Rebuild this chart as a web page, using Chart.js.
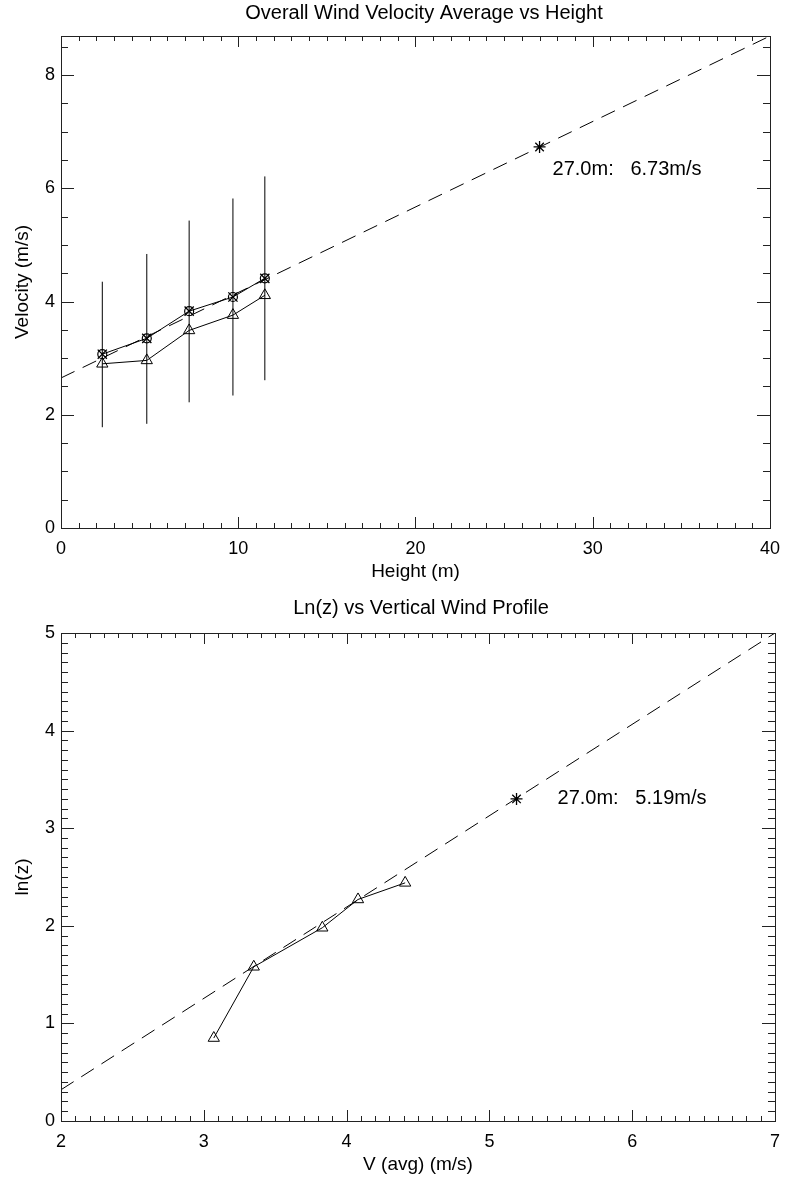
<!DOCTYPE html>
<html>
<head>
<meta charset="utf-8">
<script src="https://cdn.jsdelivr.net/npm/chart.js@4.4.1/dist/chart.umd.min.js"></script>
<style>
  html, body { margin: 0; padding: 0; background: #fff; }
  .panel { position: absolute; left: 0; width: 790px; }
  #topPanel { top: 0; height: 590px; }
  #bottomPanel { top: 590px; height: 587px; }
</style>
</head>
<body>
<div class="panel" id="topPanel"><canvas id="velocityChart" width="790" height="590"></canvas></div>
<div class="panel" id="bottomPanel"><canvas id="profileChart" width="790" height="587"></canvas></div>
<script>
const heights = [2.33, 4.84, 7.23, 9.70, 11.5];
const avgVelocity = [3.07, 3.35, 3.83, 4.08, 4.41];
const otherVelocity = [2.90, 2.96, 3.49, 3.76, 4.11];
const errLow = [1.78, 1.84, 2.22, 2.34, 2.61];
const errHigh = [4.35, 4.84, 5.43, 5.82, 6.21];

// dashed fit line and extrapolated point (top panel)
const fitHeight = [0, 40];
const fitVelocity = [2.65, 8.69];
const targetHeight = [27.0];
const targetVelocity = [6.73];

// ln(z) vs velocity (bottom panel)
const lnHeight = [0.85, 1.58, 1.98, 2.27, 2.44];
const profileFitV = [2, 7];
const profileFitLn = [0.32, 5.0];
const targetV = [5.19];
const targetLn = [3.30];

// tick labels
const topXTicks = [0, 10, 20, 30, 40];
const topYTicks = [0, 2, 4, 6, 8];
const bottomXTicks = [2, 3, 4, 5, 6, 7];
const bottomYTicks = [0, 1, 2, 3, 4, 5];

const FONT = "'Liberation Sans', Arial, Helvetica, sans-serif";
Chart.defaults.font.family = FONT;
Chart.defaults.color = '#000';

const toPoints = (xs, ys) => xs.map((x, i) => ({ x: x, y: ys[i] }));

// IDL-style box with inward ticks on all four sides, plus title and note text
const idlFrame = {
  id: 'idlFrame',
  afterDraw(chart, args, opts) {
    const { ctx, chartArea: a } = chart;
    const xs = chart.scales.x, ys = chart.scales.y;
    ctx.save();
    ctx.strokeStyle = '#222';
    ctx.lineWidth = 1;
    ctx.strokeRect(Math.round(a.left) + 0.5, Math.round(a.top) + 0.5,
      Math.round(a.right - a.left), Math.round(a.bottom - a.top));

    const tickLine = (x1, y1, x2, y2) => {
      ctx.beginPath();
      ctx.moveTo(x1, y1);
      ctx.lineTo(x2, y2);
      ctx.stroke();
    };
    const steps = (scale, step) => {
      const out = [];
      const n = Math.floor((scale.max - scale.min) / step + 1e-6);
      for (let i = 0; i <= n; i++) out.push(scale.min + i * step);
      return out;
    };

    // x axis ticks (bottom and top)
    steps(xs, opts.xMinor).forEach(v => {
      const px = Math.round(xs.getPixelForValue(v)) + 0.5;
      const major = xs.ticks.some(t => Math.abs(t.value - v) < 1e-6);
      const len = major ? 11 : 5;
      tickLine(px, a.bottom, px, a.bottom - len);
      tickLine(px, a.top, px, a.top + len);
    });
    // y axis ticks (left and right)
    steps(ys, opts.yMinor).forEach(v => {
      const py = Math.round(ys.getPixelForValue(v)) + 0.5;
      const major = ys.ticks.some(t => Math.abs(t.value - v) < 1e-6);
      const len = major ? 13 : 7;
      tickLine(a.left, py, a.left + len, py);
      tickLine(a.right, py, a.right - len, py);
    });

    ctx.fillStyle = '#000';
    ctx.textAlign = 'center';
    ctx.textBaseline = 'middle';
    ctx.font = '20px ' + FONT;
    ctx.fillText(opts.title, opts.titleX, opts.titleY);

    if (opts.note) {
      ctx.textAlign = 'left';
      ctx.font = '20px ' + FONT;
      const nx = xs.getPixelForValue(opts.note.x) + opts.note.dx;
      const ny = ys.getPixelForValue(opts.note.y) + opts.note.dy;
      ctx.fillText(opts.note.text, nx, ny);
    }
    ctx.restore();
  }
};

function axis(min, max, tickValues, title, fit, titlePad, tickPad) {
  return {
    type: 'linear',
    min: min,
    max: max,
    afterBuildTicks: s => { s.ticks = tickValues.map(v => ({ value: v })); },
    afterFit: fit,
    grid: { display: false, drawTicks: false },
    border: { display: false },
    ticks: {
      autoSkip: false,
      maxRotation: 0,
      padding: tickPad,
      color: '#000',
      font: { size: 18 },
      callback: v => String(v)
    },
    title: {
      display: true,
      text: title,
      color: '#000',
      font: { size: 19 },
      padding: titlePad
    }
  };
}

const baseOptions = {
  responsive: false,
  animation: false,
  events: [],
  plugins: { legend: { display: false }, tooltip: { enabled: false } }
};

// ---- top panel: velocity vs height
const errorBarPoints = [];
heights.forEach((h, i) => {
  errorBarPoints.push({ x: h, y: errLow[i] }, { x: h, y: errHigh[i] }, { x: h, y: null });
});

new Chart(document.getElementById('velocityChart'), {
  type: 'line',
  data: {
    datasets: [
      {
        data: toPoints(fitHeight, fitVelocity),
        borderColor: '#000', borderWidth: 1, borderDash: [15, 9],
        pointRadius: 0, tension: 0
      },
      {
        data: errorBarPoints,
        borderColor: '#000', borderWidth: 1, pointRadius: 0, spanGaps: false
      },
      {
        data: toPoints(heights, otherVelocity),
        borderColor: '#000', borderWidth: 1,
        pointStyle: 'triangle', pointRadius: 6.5,
        pointBackgroundColor: 'rgba(0,0,0,0)', pointBorderColor: '#000', pointBorderWidth: 1
      },
      {
        data: toPoints(heights, avgVelocity),
        borderColor: '#000', borderWidth: 1,
        pointStyle: 'crossRot', pointRadius: 6.5,
        pointBorderColor: '#000', pointBorderWidth: 1.3
      },
      {
        data: toPoints(heights, avgVelocity),
        showLine: false,
        pointStyle: 'circle', pointRadius: 4.5,
        pointBackgroundColor: 'rgba(0,0,0,0)', pointBorderColor: '#000', pointBorderWidth: 1.2
      },
      {
        data: toPoints(targetHeight, targetVelocity),
        showLine: false,
        pointStyle: 'star', pointRadius: 6,
        pointBorderColor: '#000', pointBorderWidth: 1.3
      }
    ]
  },
  options: Object.assign({}, baseOptions, {
    layout: { padding: { top: 36, right: 13, left: 0, bottom: 0 } },
    scales: {
      x: axis(0, 40, topXTicks, 'Height (m)', s => { s.height = 62; }, { top: 0, bottom: 7 }, 10),
      y: axis(0, 8.69, topYTicks, 'Velocity (m/s)', s => { s.width = 61; }, { top: 11, bottom: 0 }, 6)
    },
    plugins: Object.assign({}, baseOptions.plugins, {
      idlFrame: {
        title: 'Overall Wind Velocity Average vs Height',
        titleX: 424,
        titleY: 13,
        xMinor: 1,
        yMinor: 0.5,
        note: { text: '27.0m:   6.73m/s', x: targetHeight[0], y: targetVelocity[0], dx: 13, dy: 23 }
      }
    })
  }),
  plugins: [idlFrame]
});

// ---- bottom panel: ln(z) vs average velocity
new Chart(document.getElementById('profileChart'), {
  type: 'line',
  data: {
    datasets: [
      {
        data: toPoints(profileFitV, profileFitLn),
        borderColor: '#000', borderWidth: 1, borderDash: [15, 9],
        pointRadius: 0, tension: 0
      },
      {
        data: toPoints(avgVelocity, lnHeight),
        borderColor: '#000', borderWidth: 1,
        pointStyle: 'triangle', pointRadius: 6.5,
        pointBackgroundColor: 'rgba(0,0,0,0)', pointBorderColor: '#000', pointBorderWidth: 1
      },
      {
        data: toPoints(targetV, targetLn),
        showLine: false,
        pointStyle: 'star', pointRadius: 6,
        pointBorderColor: '#000', pointBorderWidth: 1.3
      }
    ]
  },
  options: Object.assign({}, baseOptions, {
    layout: { padding: { top: 43, right: 13, left: 0, bottom: 0 } },
    scales: {
      x: axis(2, 7, bottomXTicks, 'V (avg) (m/s)', s => { s.height = 56; }, { top: 0, bottom: 1 }, 10),
      y: axis(0, 5, bottomYTicks, 'ln(z)', s => { s.width = 61; }, { top: 11, bottom: 0 }, 6)
    },
    plugins: Object.assign({}, baseOptions.plugins, {
      idlFrame: {
        title: 'Ln(z) vs Vertical Wind Profile',
        titleX: 421,
        titleY: 18,
        xMinor: 0.1,
        yMinor: 0.1,
        note: { text: '27.0m:   5.19m/s', x: targetV[0], y: targetLn[0], dx: 41, dy: 0 }
      }
    })
  }),
  plugins: [idlFrame]
});
</script>
</body>
</html>
